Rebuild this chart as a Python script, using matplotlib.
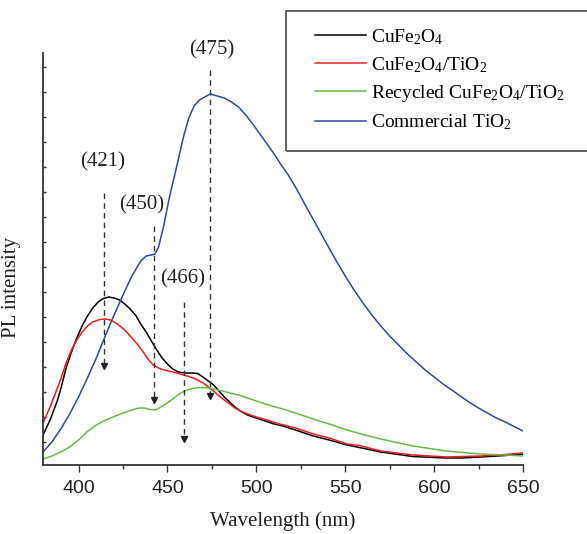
import matplotlib
matplotlib.use("Agg")
import matplotlib.pyplot as plt
from matplotlib.patches import Rectangle

plt.rcParams['mathtext.fontset'] = 'custom'
plt.rcParams['mathtext.rm'] = 'Liberation Serif'
plt.rcParams['mathtext.it'] = 'Liberation Serif:italic'

# wavelength (nm) and PL intensity (a.u.)
nm_blue = [380, 385, 390, 395, 400, 405, 410, 415, 420, 425, 430, 435, 438, 441, 443, 445,
           448, 451, 455, 459, 462, 465, 468, 471, 474, 478, 482, 486, 490, 494, 498, 502,
           506, 510, 514, 518, 522, 526, 530, 535, 540, 545, 550, 555, 560, 565, 570, 575,
           580, 585, 590, 595, 600, 605, 610, 615, 620, 625, 630, 635, 640, 645, 650]
pl_blue = [13, 23, 36, 51, 68, 87, 107, 129, 150, 170, 189, 204, 209, 210, 211, 218,
           240, 267, 297, 328, 347, 359, 365, 368, 371, 369, 367, 363, 358, 350, 341, 331,
           321, 311, 300, 290, 278, 265, 252, 236, 220, 204, 189, 175, 162, 150, 139, 129,
           120, 111, 103, 95, 88, 81, 75, 68.5, 62.5, 57, 52, 47, 43, 38.5, 34]

nm_black = [380, 384, 388, 390, 393, 396, 399, 402, 405, 408, 411, 414, 417, 420, 423, 426,
            429, 432, 435, 438, 441, 444, 447, 450, 453, 456, 460, 464, 467, 470, 473, 476,
            479, 482, 485, 488, 491, 495, 500, 505, 510, 515, 522, 532, 541, 551, 558, 570,
            580, 588, 600, 607, 615, 626, 640, 650]
pl_black = [30, 45, 64, 76, 97, 113, 127, 139, 149, 157, 163, 166.5, 168, 167, 165, 161,
            156, 150, 141, 133, 124, 115, 107, 101, 96, 93, 92, 92, 91.5, 88, 84, 80,
            74, 68, 63, 58, 54, 50, 47, 44, 41, 39, 35, 29, 25, 20, 17.5, 13,
            10.5, 8.5, 7.5, 7, 7, 8, 9.5, 11]

nm_red = [380, 384, 387, 390, 393, 396, 399, 402, 405, 408, 412, 415, 418, 421, 424, 427,
          430, 433, 436, 439, 442, 445, 448, 452, 457, 462, 466, 470, 473, 476, 479, 482,
          485, 488, 491, 495, 500, 505, 513, 522, 532, 541, 551, 558, 570, 588, 607, 626,
          640, 650]
pl_red = [42, 58, 72, 86, 102, 115, 125, 133, 139, 143, 145.5, 146, 145, 142, 138, 133,
          127, 121, 114, 106, 100, 97, 95, 93.5, 91, 88.5, 86, 82, 78, 74, 69, 65,
          61, 57, 54, 51, 48, 45.5, 41, 37, 31, 27, 21, 19.5, 14, 10, 8, 9,
          10.5, 12]

nm_green = [380, 385, 390, 395, 400, 405, 410, 414, 420, 425, 430, 434, 437, 440, 443, 446,
            449, 453, 457, 461, 465, 469, 473, 477, 481, 485, 490, 495, 500, 505, 513, 522,
            532, 541, 551, 560, 570, 588, 607, 626, 640, 650]
pl_green = [6, 9, 13, 18, 25, 33.5, 40, 44, 48.5, 52, 55, 57, 57, 55.5, 55, 57.5,
            61, 66, 71.5, 75, 77, 77.5, 77, 75.5, 74, 72, 70, 67, 64, 61, 57, 52,
            46, 41, 35, 30.5, 26, 19, 14, 11, 10, 9]

labels = [r'CuFe$_2$O$_4$', r'CuFe$_2$O$_4$/TiO$_2$',
          r'Recycled CuFe$_2$O$_4$/TiO$_2$', r'Commercial TiO$_2$']

# peak markers: label, arrow x, top of dashed line, arrow tip, text position
peak_text = ['(421)', '(450)', '(466)', '(475)']
peak_x = [414.3, 442.3, 459.1, 473.8]
peak_top = [272, 239, 163, 395]
peak_tip = [95, 61, 22, 65]
text_x = [413.7, 435.7, 458.7, 475]
text_y = [303, 260, 186, 415]

fig = plt.figure(figsize=(5.87, 5.34), dpi=100)
ax = fig.add_axes([43 / 587, 1 - 465 / 534, 480 / 587, 412 / 534])

l1, = ax.plot(nm_black, pl_black, color='black', lw=1.1)
l2, = ax.plot(nm_red, pl_red, color='#ee1c1c', lw=1.1)
l3, = ax.plot(nm_green, pl_green, color='#66bb44', lw=1.1)
l4, = ax.plot(nm_blue, pl_blue, color='#2e47a6', lw=1.1)

for t, x, top, tip, tx, ty in zip(peak_text, peak_x, peak_top, peak_tip, text_x, text_y):
    ax.plot([x, x], [top, tip + 4], color='#333333', lw=1.0, ls=(0, (4, 3)), clip_on=False)
    ax.plot([x], [tip + 4], marker='v', color='#222222', markersize=5, clip_on=False)
    ax.text(tx, ty, t, ha='center', va='center', fontsize=15,
            family='Liberation Serif', color='#222222', clip_on=False)

ax.set_xlim(380, 650)
ax.set_ylim(0, 412)
ax.set_xticks([400, 450, 500, 550, 600, 650])
ax.set_xticks([425, 475, 525, 575, 625], minor=True)
ax.set_yticks(list(range(23, 412, 25)))
ax.set_yticklabels([])

for s in ['top', 'right']:
    ax.spines[s].set_visible(False)
for s in ['left', 'bottom']:
    ax.spines[s].set_linewidth(1.3)
    ax.spines[s].set_color('#333333')

ax.tick_params(axis='x', which='major', direction='out', length=5, width=1, colors='#333333',
               labelsize=14, labelcolor='#222222', pad=6)
ax.tick_params(axis='x', which='minor', direction='out', length=3, width=1, colors='#333333')
ax.tick_params(axis='y', which='major', direction='in', length=2.5, width=1, colors='#333333')
for lab in ax.get_xticklabels():
    lab.set_family('Liberation Sans')

ax.set_xlabel('Wavelength (nm)', fontsize=15, family='Liberation Serif', color='#222222')
ax.xaxis.set_label_coords(0.5, -0.112)
ax.set_ylabel('PL intensity', fontsize=15, family='Liberation Serif', color='#222222')
ax.yaxis.set_label_coords(-0.046, 0.432)

fig.add_artist(Rectangle((286 / 587, 1 - 150.7 / 534), 0.6, 140 / 534,
                         transform=fig.transFigure, fill=False, edgecolor='#555555', lw=1.3))
fig.legend([l1, l2, l3, l4], labels, loc='upper left',
           bbox_to_anchor=(315 / 587, 1 - 27 / 534), frameon=False,
           prop={'family': 'Liberation Serif', 'size': 14}, borderpad=0, borderaxespad=0,
           handlelength=2.6, handletextpad=0.3, labelspacing=0.43)

fig.savefig('out.png', dpi=100)
